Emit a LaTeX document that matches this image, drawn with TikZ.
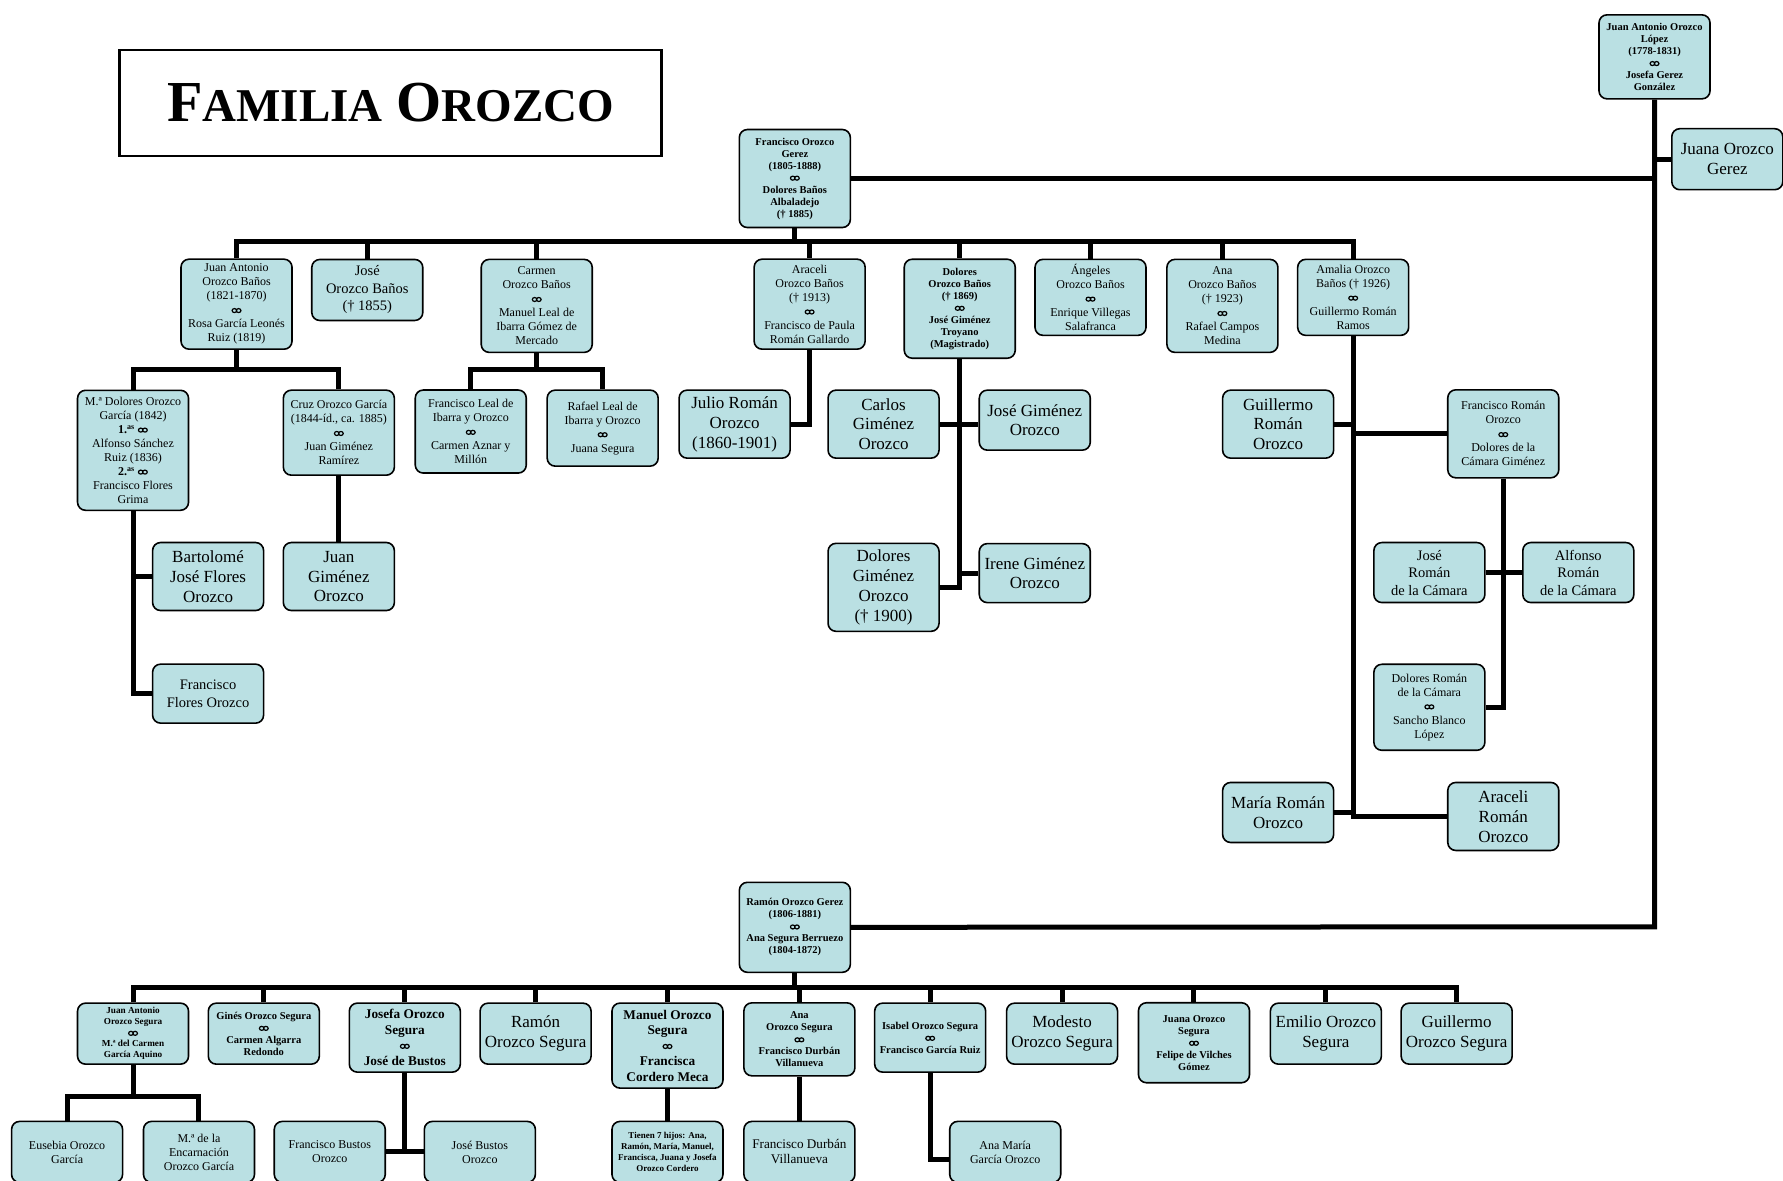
\documentclass[tikz,border=0pt]{standalone}
\usepackage{fontspec}
\setmainfont{Liberation Serif}
\usepackage{xcolor}
\definecolor{famfill}{RGB}{186,224,227}
\newcommand{\marr}{\tikz[baseline=-0.6ex]{\draw[line width=1.2pt, fill=none] (0pt,0pt) ellipse (2.3pt and 2pt) (4.2pt,0pt) ellipse (2.3pt and 2pt);}}

\begin{document}
\begin{tikzpicture}[x=1.1371pt, y=-1.1371pt,
    fam/.style={draw, line width=1.6pt, rounded corners=8pt, fill=famfill, align=center, minimum width=111pt, inner sep=1pt},
    big/.style={fam, font=\fontsize{17}{19.8}\selectfont},
    med/.style={fam, font=\fontsize{14.5}{17.5}\selectfont},
    mid/.style={fam, font=\fontsize{12}{14}\selectfont},
    sb/.style={fam, font=\fontsize{10.5}{12}\selectfont\bfseries},
    xb/.style={fam, font=\fontsize{9.2}{11}\selectfont\bfseries},
    lb/.style={fam, font=\fontsize{13.3}{15.5}\selectfont\bfseries},
    link/.style={line width=5pt}]
        \useasboundingbox (0,0) rectangle (1568,1038);

        \node[draw, line width=2.5pt, minimum width=542pt, minimum height=106pt] (title) at (343.5,90.5)
            {\bfseries{\fontsize{58}{60}\selectfont F}{\fontsize{47}{50}\selectfont AMILIA}\hspace{14pt}{\fontsize{58}{60}\selectfont O}{\fontsize{47}{50}\selectfont ROZCO}};

        \node[sb, minimum height=84pt] (jaol) at (1455,50) {Juan Antonio Orozco\\López\\(1778-1831)\\\marr\\Josefa Gerez\\González};
        \node[big, minimum height=61pt] (jog) at (1519,140) {Juana Orozco\\Gerez};
        \node[sb, minimum height=98pt] (fog) at (699,157) {Francisco Orozco\\Gerez\\(1805-1888)\\\marr\\Dolores Baños\\Albaladejo\\(† 1885)};

        \node[mid, minimum height=90pt] (jaob) at (208,267.5) {Juan Antonio\\Orozco Baños\\(1821-1870)\\\marr\\Rosa García Leonés\\Ruiz (1819)};
        \node[med, minimum height=61pt] (job) at (323,255) {José\\Orozco Baños\\(† 1855)};
        \node[mid, minimum height=93pt] (cob) at (472,269) {Carmen\\Orozco Baños\\\marr\\Manuel Leal de\\Ibarra Gómez de\\Mercado};
        \node[mid, minimum height=90pt] (aob) at (712,267.5) {Araceli\\Orozco Baños\\(† 1913)\\\marr\\Francisco de Paula\\Román Gallardo};
        \node[sb, minimum height=99pt] (dob) at (844,271.5) {Dolores\\Orozco Baños\\(† 1869)\\\marr\\José Giménez\\Troyano\\(Magistrado)};
        \node[mid, minimum height=76pt] (angob) at (959,261.5) {Ángeles\\Orozco Baños\\\marr\\Enrique Villegas\\Salafranca};
        \node[mid, minimum height=93pt] (anob) at (1075,269) {Ana\\Orozco Baños\\(† 1923)\\\marr\\Rafael Campos\\Medina};
        \node[mid, minimum height=76pt] (amob) at (1190,261.5) {Amalia Orozco\\Baños († 1926)\\\marr\\Guillermo Román\\Ramos};

        \node[mid, minimum height=120pt] (mdog) at (117,396) {M.ª Dolores Orozco\\García (1842)\\\textbf{1.\textsuperscript{as}} \marr\\Alfonso Sánchez\\Ruiz (1836)\\\textbf{2.\textsuperscript{as}} \marr\\Francisco Flores\\Grima};
        \node[mid, minimum height=85pt] (cog) at (298,380.5) {Cruz Orozco García\\(1844-íd., ca. 1885)\\\marr\\Juan Giménez\\Ramírez};
        \node[big, minimum height=68pt] (bjfo) at (183,507) {Bartolomé\\José Flores\\Orozco};
        \node[med, minimum height=59pt] (ffo) at (183,610) {Francisco\\Flores Orozco};
        \node[big, minimum height=68pt] (jugo) at (298,507) {Juan\\Giménez\\Orozco};
        \node[mid, minimum height=83pt] (flio) at (414,379.5) {Francisco Leal de\\Ibarra y Orozco\\\marr\\Carmen Aznar y\\Millón};
        \node[mid, minimum height=76pt] (rlio) at (530,376.5) {Rafael Leal de\\Ibarra y Orozco\\\marr\\Juana Segura};
        \node[big, minimum height=68pt] (jro) at (646,373) {Julio Román\\Orozco\\(1860-1901)};
        \node[big, minimum height=68pt] (cgo) at (777,373) {Carlos\\Giménez\\Orozco};
        \node[big, minimum height=60pt] (jgo) at (910,369.5) {José Giménez\\Orozco};
        \node[big, minimum height=88pt] (dgo) at (777,516.5) {Dolores\\Giménez\\Orozco\\(† 1900)};
        \node[big, minimum height=59pt] (igo) at (910,504) {Irene Giménez\\Orozco};
        \node[big, minimum height=68pt] (gro) at (1124,373) {Guillermo\\Román\\Orozco};
        \node[mid, minimum height=88pt] (fro) at (1322,381.5) {Francisco Román\\Orozco\\\marr\\Dolores de la\\Cámara Giménez};
        \node[med, minimum height=60pt] (jrc) at (1257,503.5) {José\\Román\\de la Cámara};
        \node[med, minimum height=60pt] (arc) at (1388,503.5) {Alfonso\\Román\\de la Cámara};
        \node[mid, minimum height=86pt] (drc) at (1257,622) {Dolores Román\\de la Cámara\\\marr\\Sancho Blanco\\López};
        \node[big, minimum height=60pt] (mro) at (1124,714.5) {María Román\\Orozco};
        \node[big, minimum height=68pt] (aro) at (1322,718) {Araceli\\Román\\Orozco};

        \node[sb, minimum height=90pt] (rog) at (699,815.5) {Ramón Orozco Gerez\\(1806-1881)\\\marr\\Ana Segura Berruezo\\(1804-1872)};

        \node[xb, minimum height=61pt] (jaos) at (117,909) {Juan Antonio\\Orozco Segura\\\marr\\M.ª del Carmen\\García Aquino};
        \node[sb, minimum height=61pt] (gos) at (232,909) {Ginés Orozco Segura\\\marr\\Carmen Algarra\\Redondo};
        \node[lb, minimum height=69pt] (jfos) at (356,912.5) {Josefa Orozco\\Segura\\\marr\\José de Bustos};
        \node[big, minimum height=61pt] (ros) at (471,909) {Ramón\\Orozco Segura};
        \node[lb, minimum height=85pt] (mos) at (587,919.5) {Manuel Orozco\\Segura\\\marr\\Francisca\\Cordero Meca};
        \node[sb, minimum height=73pt] (aos) at (703,914) {Ana\\Orozco Segura\\\marr\\Francisco Durbán\\Villanueva};
        \node[sb, minimum height=69pt] (ios) at (818,912.5) {Isabel Orozco Segura\\\marr\\Francisco García Ruiz};
        \node[big, minimum height=61pt] (modos) at (934,909) {Modesto\\Orozco Segura};
        \node[sb, minimum height=80pt] (juos) at (1050,917) {Juana Orozco\\Segura\\\marr\\Felipe de Vilches\\Gómez};
        \node[big, minimum height=61pt] (eos) at (1166,909) {Emilio Orozco\\Segura};
        \node[big, minimum height=61pt] (guos) at (1281,909) {Guillermo\\Orozco Segura};

        \node[mid, minimum height=61pt] (eog) at (59,1013) {Eusebia Orozco\\García};
        \node[mid, minimum height=61pt] (meog) at (175,1013) {M.ª de la\\Encarnación\\Orozco García};
        \node[mid, minimum height=61pt] (fbo) at (290,1013) {Francisco Bustos\\Orozco};
        \node[mid, minimum height=61pt] (jbo) at (422,1013) {José Bustos\\Orozco};
        \node[fam, font=\fontsize{9}{11}\selectfont\bfseries, minimum height=61pt] (hoc) at (587,1013) {Tienen 7 hijos: Ana,\\Ramón, María, Manuel,\\Francisca, Juana y Josefa\\Orozco Cordero};
        \node[fam, font=\fontsize{13.2}{15}\selectfont, minimum height=61pt] (fdv) at (703,1013) {Francisco Durbán\\Villanueva};
        \node[mid, minimum height=61pt] (amgo) at (884,1013) {Ana María\\García Orozco};

        \coordinate (trunk) at (1455,815);
        \coordinate (fbar) at (699,212);
        \coordinate (jbar) at (208,325);
        \coordinate (cbar) at (472,325);
        \coordinate (rbar) at (699,868);
        \coordinate (sbar) at (117,964);

        \draw[link] (jaol.south) -- (trunk) -- (rog.east);
        \draw[link] (fog.east) -- (fog.east -| trunk);
        \draw[link] (jog.west) -- (jog.west -| trunk);

        \draw[link] (fog.south) -- (fbar);
        \foreach \c in {jaob,job,cob,aob,dob,angob,anob,amob}
            \draw[link] (\c.north) |- (fbar);

        \draw[link] (jaob.south) -- (jbar);
        \draw[link] (mdog.north) |- (jbar);
        \draw[link] (cog.north) |- (jbar);
        \draw[link] (mdog.south) |- (ffo.west);
        \draw[link] (bjfo.west) -- (bjfo.west -| mdog.south);
        \draw[link] (cog.south) -- (jugo.north);

        \draw[link] (cob.south) -- (cbar);
        \draw[link] (flio.north) |- (cbar);
        \draw[link] (rlio.north) |- (cbar);

        \draw[link] (aob.south) |- (jro.east);

        \draw[link] (dob.south) |- (dgo.east);
        \draw[link] (cgo.east) -- (cgo.east -| jgo.west);
        \draw[link] (igo.west) -- (igo.west -| dob.south);

        \draw[link] (amob.south) |- (aro.west);
        \draw[link] (gro.east) -- (gro.east -| amob.south);
        \draw[link] (fro.west) -- (fro.west -| amob.south);
        \draw[link] (mro.east) -- (mro.east -| amob.south);
        \draw[link] (fro.south) |- (drc.east);
        \draw[link] (jrc.east) -- (arc.west);

        \draw[link] (rog.south) -- (rbar);
        \foreach \c in {jaos,gos,jfos,ros,mos,aos,ios,modos,juos,eos,guos}
            \draw[link] (\c.north) |- (rbar);

        \draw[link] (jaos.south) -- (sbar);
        \draw[link] (eog.north) |- (sbar);
        \draw[link] (meog.north) |- (sbar);
        \draw[link] (jfos.south) -- (jfos.south |- fbo.east);
        \draw[link] (fbo.east) -- (jbo.west);
        \draw[link] (mos.south) -- (hoc.north);
        \draw[link] (aos.south) -- (fdv.north);
        \draw[link] (ios.south) |- ([yshift=-8pt]amgo.west);
    \end{tikzpicture}
\end{document}
